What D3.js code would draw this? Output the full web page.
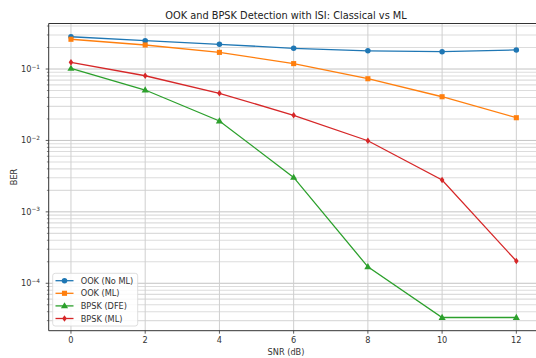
<!DOCTYPE html>
<html><head><meta charset="utf-8">
<script src="https://cdn.jsdelivr.net/npm/d3@7"></script>
<style>body{margin:0;background:#fff}svg{display:block;font-family:"DejaVu Sans",sans-serif}</style>
</head><body><svg id="c" width="536" height="358"></svg>
<script>
const snr = [0, 2, 4, 6, 8, 10, 12];
const ookNoML = [0.283, 0.249, 0.222, 0.195, 0.180, 0.175, 0.185];
const ookML = [0.261, 0.217, 0.171, 0.119, 0.0731, 0.0409, 0.0208];
const bpskDFE = [0.102, 0.0508, 0.0187, 0.00304, 0.00017, 0.0000332, 0.0000332];
const bpskML = [0.124, 0.0805, 0.0457, 0.0225, 0.0099, 0.00279, 0.000205];
const seriesNames = ["OOK (No ML)", "OOK (ML)", "BPSK (DFE)", "BPSK (ML)"];
const xTicks = [0, 2, 4, 6, 8, 10, 12];
const yTickExps = [-1, -2, -3, -4];

const series = [
  {name: seriesNames[0], values: ookNoML, color: "#1f77b4", marker: "circle"},
  {name: seriesNames[1], values: ookML, color: "#ff7f0e", marker: "square"},
  {name: seriesNames[2], values: bpskDFE, color: "#2ca02c", marker: "triangle"},
  {name: seriesNames[3], values: bpskML, color: "#d62728", marker: "diamond"}
];

const svg = d3.select("#c");
const L = 48.7, R = 538.6, T = 23.5, B = 330.7;
const x = d3.scaleLinear().domain([-0.6, 12.6]).range([L, R]);
const y = d3.scaleLog().domain([Math.pow(10, -4.664), Math.pow(10, -0.3627)]).range([B, T]);
const [ymin, ymax] = y.domain();

// minor ticks
const minor = [];
for (let e = -5; e <= 0; e++) for (let m = 2; m <= 9; m++) {
  const v = m * Math.pow(10, e);
  if (v >= ymin && v <= ymax) minor.push(v);
}
const major = yTickExps.map(e => Math.pow(10, e));

const g = svg.append("g");
// grid
g.selectAll(".mg").data(minor).join("line")
  .attr("x1", L).attr("x2", R).attr("y1", d => y(d)).attr("y2", d => y(d))
  .attr("stroke", "#dcdcdc").attr("stroke-width", 1.1);
g.selectAll(".Mg").data(major).join("line")
  .attr("x1", L).attr("x2", R).attr("y1", d => y(d)).attr("y2", d => y(d))
  .attr("stroke", "#c4c4c4").attr("stroke-width", 1);
g.selectAll(".xg").data(xTicks).join("line")
  .attr("x1", d => x(d)).attr("x2", d => x(d)).attr("y1", T).attr("y2", B)
  .attr("stroke", "#cfcfcf").attr("stroke-width", 1);

// series
const line = d3.line().x((d, i) => x(snr[i])).y(d => y(d));
const sym = {
  circle: d3.symbol(d3.symbolCircle, 24),
  square: d3.symbol(d3.symbolSquare, 26),
  triangle: d3.symbol(d3.symbolTriangle, 22)
};
function drawMarker(sel, type, color) {
  if (type === "diamond") {
    sel.append("path").attr("d", "M0,-3.3L2.3,0L0,3.3L-2.3,0Z").attr("fill", color);
  } else {
    sel.append("path").attr("d", sym[type]()).attr("fill", color)
      .attr("transform", type === "triangle" ? "translate(0,0.4)" : null);
  }
}
series.forEach(s => {
  g.append("path").attr("d", line(s.values)).attr("fill", "none")
    .attr("stroke", s.color).attr("stroke-width", 1.3);
  s.values.forEach((v, i) => {
    const m = g.append("g").attr("transform", `translate(${x(snr[i])},${y(v)})`);
    drawMarker(m, s.marker, s.color);
  });
});

// spines
g.append("line").attr("x1", L).attr("x2", L).attr("y1", T).attr("y2", B).attr("stroke", "#333").attr("stroke-width", 1);
g.append("line").attr("x1", L).attr("x2", R).attr("y1", B).attr("y2", B).attr("stroke", "#333").attr("stroke-width", 1);
g.append("line").attr("x1", L).attr("x2", R).attr("y1", T).attr("y2", T).attr("stroke", "#333").attr("stroke-width", 1);

// ticks
g.selectAll(".xt").data(xTicks).join("line")
  .attr("x1", d => x(d)).attr("x2", d => x(d)).attr("y1", B).attr("y2", B + 3)
  .attr("stroke", "#333").attr("stroke-width", 0.8);
g.selectAll(".xl").data(xTicks).join("text")
  .attr("x", d => x(d)).attr("y", 343).attr("text-anchor", "middle")
  .attr("font-size", 8.2).attr("fill", "#333").text(d => d);
g.selectAll(".yt").data(major).join("line")
  .attr("x1", L - 3).attr("x2", L).attr("y1", d => y(d)).attr("y2", d => y(d))
  .attr("stroke", "#333").attr("stroke-width", 0.8);
g.selectAll(".ymt").data(minor).join("line")
  .attr("x1", L - 1.8).attr("x2", L).attr("y1", d => y(d)).attr("y2", d => y(d))
  .attr("stroke", "#333").attr("stroke-width", 0.6);
yTickExps.forEach(e => {
  const t = g.append("text").attr("x", 40).attr("y", y(Math.pow(10, e)) + 3)
    .attr("text-anchor", "end").attr("font-size", 8.2).attr("fill", "#333");
  t.append("tspan").text("10");
  t.append("tspan").attr("dy", -3.5).attr("font-size", 5.8).text("\u2212" + Math.abs(e));
});

// labels
svg.append("text").attr("x", 286).attr("y", 18.5).attr("text-anchor", "middle")
  .attr("font-size", 9.8).attr("fill", "#222").text("OOK and BPSK Detection with ISI: Classical vs ML");
svg.append("text").attr("x", 286).attr("y", 355).attr("text-anchor", "middle")
  .attr("font-size", 8.2).attr("fill", "#333").text("SNR (dB)");
svg.append("text").attr("transform", "translate(17,177) rotate(-90)").attr("text-anchor", "middle")
  .attr("font-size", 8.2).attr("fill", "#333").text("BER");

// legend
const lg = svg.append("g");
lg.append("rect").attr("x", 52.7).attr("y", 273.3).attr("width", 85).attr("height", 52.7)
  .attr("rx", 2.5).attr("fill", "#fff").attr("fill-opacity", 0.85).attr("stroke", "#d6d6d6").attr("stroke-width", 0.8);
series.forEach((s, i) => {
  const cy = 280.7 + i * 12.6;
  lg.append("line").attr("x1", 55.5).attr("x2", 73.5).attr("y1", cy).attr("y2", cy)
    .attr("stroke", s.color).attr("stroke-width", 1.3);
  const m = lg.append("g").attr("transform", `translate(64.5,${cy})`);
  drawMarker(m, s.marker, s.color);
  lg.append("text").attr("x", 80.7).attr("y", cy + 3).attr("font-size", 8.2).attr("fill", "#333").text(s.name);
});
</script></body></html>
